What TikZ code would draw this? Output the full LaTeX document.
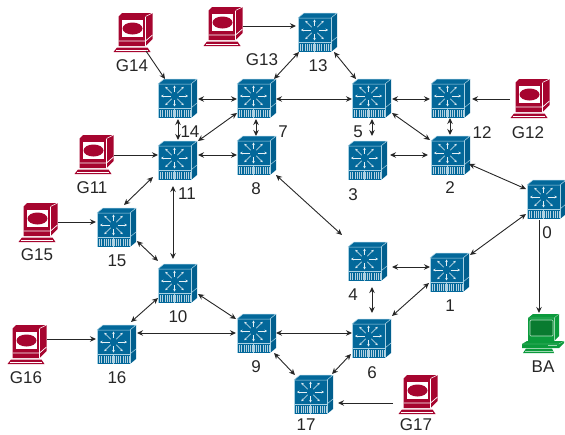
\documentclass[tikz,border=0pt]{standalone}
\usepackage{fontspec}
\setmainfont{Liberation Sans}
\usetikzlibrary{arrows.meta,calc}
\definecolor{swblue}{HTML}{03689A}
\definecolor{swedge}{HTML}{A9D2E4}
\definecolor{swside}{HTML}{015F8E}
\definecolor{pcred}{HTML}{A6052F}
\definecolor{pcgreen}{HTML}{0B9A3C}
\definecolor{linkcol}{HTML}{262626}
\tikzset{
  x=1pt,y=-1pt,
  box/.style={minimum width=39pt,minimum height=39pt,inner sep=0pt,outer sep=0pt},
  widebox/.style={minimum width=42pt,minimum height=39pt,inner sep=0pt,outer sep=0pt},
  lab/.style={inner sep=0pt,font=\fontsize{17}{17}\selectfont,text=black!85},
  twoway/.style={draw=linkcol,line width=0.9pt,{Stealth[length=6pt,width=5.5pt]}-{Stealth[length=6pt,width=5.5pt]}},
  oneway/.style={draw=linkcol,line width=0.9pt,-{Stealth[length=6pt,width=5.5pt]}},
  switchicon/.pic={
    \fill[swblue] (0,5) -- (6,0) -- (39,0) -- (33,5) -- cycle;
    \fill[swside] (33,5) -- (39,0) -- (39,34) -- (33,39) -- cycle;
    \fill[swblue] (0,5) rectangle (33,29);
    \fill[swblue!30!white] (0,29) rectangle (33,39);
    \fill[swblue] (0,29) rectangle (33,31);
    \fill[swblue] (0,38) rectangle (33,39);
    \foreach \px in {1.5,3.7,5.9,8.1,10.3,12.5,14.7,18.3,20.5,22.7,24.9,27.1,29.3,31.5}
      \fill[swblue] (\px-0.6,31) rectangle (\px+0.6,38);
    \fill[swedge] (16,29) rectangle (17,39);
    \draw[swedge,line width=0.5pt,line join=round] (0,5) -- (6,0) -- (39,0) -- (33,5) -- cycle;
    \draw[swedge,line width=0.5pt] (33,5) -- (33,39);
    \draw[swedge,line width=0.5pt] (33,29) -- (39,24);
    \draw[swedge,line width=0.5pt] (0,5) -- (0,39);
    \draw[swedge,line width=0.5pt] (0,29) -- (33,29);
    \foreach \ang/\ra/\rb in {0/4/13.5,45/4/13,90/4/10.5,135/4/13,180/4/13.5,225/4/13,270/4/10.5,315/4/13}
      \draw[white!90!swblue,line width=0.6pt,-{Stealth[length=2.5pt,width=2.5pt]}]
        ($(16.5,17)+(\ang:\ra pt and -\ra pt)$) -- ($(16.5,17)+(\ang:\rb pt and -\rb pt)$);
  },
  redpc/.pic={
    \fill[pcred] (4.5,3.5) -- (8,0) -- (38.5,0) -- (38.5,26) -- (31.5,33) -- (4.5,33) -- cycle;
    \draw[white,line width=0.5pt] (31.5,3.5) -- (38.5,0);
    \draw[white,line width=0.5pt] (31.5,3.5) -- (31.5,33);
    \fill[white] (8,7) rectangle (29,24);
    \fill[pcred] (18.5,15.5) ellipse (10pt and 6pt);
    \draw[white,line width=0.7pt] (4.5,28) -- (31.5,28) -- (38.5,22);
    \fill[pcred] (3,34.5) -- (33.5,34.5) -- (36.5,39) -- (-0.5,39) -- cycle;
    \draw[white,line width=0.4pt] (2,37) -- (34,37);
  },
  greenpc/.pic={
    \fill[pcgreen] (6,4) -- (11,0) -- (37,0) -- (37,22) -- (32,27) -- (6,27) -- cycle;
    \fill[pcgreen!80!black] (8,6) rectangle (31,22);
    \draw[white!70!pcgreen,line width=0.7pt,rounded corners=1pt] (8,6) rectangle (31,22);
    \draw[white!60!pcgreen,line width=0.4pt] (6,4) -- (32,4) -- (37,0);
    \draw[white!60!pcgreen,line width=0.4pt] (32,4) -- (32,27);
    \fill[pcgreen] (5,27) -- (38,27) -- (42,27) -- (42,29) -- (37,34) -- (0,34) -- (0,30) -- cycle;
    \draw[white!60!pcgreen,line width=0.4pt] (0,30) -- (37,30) -- (42,27);
    \fill[white!60!pcgreen] (26,30.5) rectangle (35,32);
    \fill[pcgreen] (4,34.5) -- (30,34.5) -- (32,39) -- (1,39) -- cycle;
    \draw[white!60!pcgreen,line width=0.4pt] (3,37) -- (31,37);
  }
}
\newcommand{\swnode}[3]{\pic at (#2,#3) {switchicon}; \node[box,anchor=north west] (#1) at (#2,#3) {};}
\newcommand{\rednode}[3]{\pic at (#2,#3) {redpc}; \node[box,anchor=north west] (#1) at (#2,#3) {};}
\newcommand{\link}[5]{\draw[#1] ([shift={(#3)}]#2.north west) -- ([shift={(#5)}]#4.north west);}
\newcommand{\lab}[4]{\node[lab] (#1) at (#2,#3) {#4};}
\begin{document}
\begin{tikzpicture}
\useasboundingbox (0,0) rectangle (565,434);
\swnode{n0}{527}{180}
\swnode{n1}{430}{253}
\swnode{n2}{431}{136}
\swnode{n3}{348}{141}
\swnode{n4}{348}{242}
\swnode{n5}{352}{79}
\swnode{n6}{352}{319}
\swnode{n7}{237}{79}
\swnode{n8}{237}{136}
\swnode{n9}{237}{314}
\swnode{n10}{158}{264}
\swnode{n11}{158}{141}
\swnode{n12}{431}{79}
\swnode{n13}{298}{13}
\swnode{n14}{158}{79}
\swnode{n15}{97}{208}
\swnode{n16}{97}{325}
\swnode{n17}{294}{375}
\rednode{g11}{75}{135}
\rednode{g12}{511}{79}
\rednode{g13}{204}{7}
\rednode{g14}{114}{13}
\rednode{g15}{19}{203}
\rednode{g16}{8}{325}
\rednode{g17}{399}{375}
\pic at (522,314) {greenpc};
\node[widebox,anchor=north west] (ba) at (522,314) {};
\link{oneway}{g14}{32,38}{n14}{7,0}
\link{oneway}{g13}{39,19}{n13}{-2,13}
\link{oneway}{g11}{39,20}{n11}{0,14}
\link{oneway}{g12}{-1,20}{n12}{41,20}
\link{oneway}{g15}{39,19}{n15}{-1,14}
\link{oneway}{g16}{39,14}{n16}{-1,14}
\link{oneway}{g17}{-6,28}{n17}{44,28}
\link{oneway}{n0}{12,40}{ba}{17,-1}
\link{twoway}{n14}{40,20}{n7}{0,20}
\link{twoway}{n14}{20,40}{n11}{20,-1}
\link{twoway}{n7}{0,34}{n11}{40,0}
\link{twoway}{n7}{19,40}{n8}{19,0}
\link{twoway}{n11}{40,14}{n8}{0,19}
\link{twoway}{n13}{1,39}{n7}{37,0}
\link{twoway}{n13}{36,39}{n5}{4,0}
\link{twoway}{n7}{39,20}{n5}{0,20}
\link{twoway}{n5}{40,20}{n12}{-1,20}
\link{twoway}{n5}{20,40}{n3}{24,-5}
\link{twoway}{n5}{40,34}{n2}{-1,4}
\link{twoway}{n3}{42,14}{n2}{-3,19}
\link{twoway}{n12}{19,39}{n2}{19,-1}
\link{twoway}{n2}{38,28}{n0}{-1,9}
\link{twoway}{n0}{-1,34}{n1}{40,2}
\link{twoway}{n8}{39,39}{n4}{-6,-7}
\link{twoway}{n4}{44,25}{n1}{0,14}
\link{twoway}{n4}{24,45}{n6}{20,-6}
\link{twoway}{n1}{-1,30}{n6}{40,-3}
\link{twoway}{n11}{15,45}{n10}{15,-5}
\link{twoway}{n11}{-5,36}{n15}{27,-3}
\link{twoway}{n15}{40,33}{n10}{0,-3}
\link{twoway}{n10}{0,34}{n16}{34,-3}
\link{twoway}{n10}{40,30}{n9}{-1,5}
\link{twoway}{n16}{40,8}{n9}{-1,19}
\link{twoway}{n9}{39,19}{n6}{0,14}
\link{twoway}{n9}{37,39}{n17}{1,0}
\link{twoway}{n6}{-1,35}{n17}{38,-1}
\lab{l0}{547}{233}{0}
\lab{l1}{450}{306}{1}
\lab{l2}{450}{188}{2}
\lab{l3}{353}{195}{3}
\lab{l4}{353}{295}{4}
\lab{l5}{358}{132}{5}
\lab{l6}{372}{373}{6}
\lab{l7}{283}{132}{7}
\lab{l8}{256}{189}{8}
\lab{l9}{256}{367}{9}
\lab{l10}{178}{317}{10}
\lab{l11}{187}{194}{11}
\lab{l12}{482}{133}{12}
\lab{l13}{318}{66}{13}
\lab{l14}{190}{132}{14}
\lab{l15}{117}{261}{15}
\lab{l16}{117}{378}{16}
\lab{l17}{306}{425}{17}
\lab{lg11}{92}{188}{G11}
\lab{lg12}{528}{133}{G12}
\lab{lg13}{262}{60}{G13}
\lab{lg14}{132}{66}{G14}
\lab{lg15}{37}{255}{G15}
\lab{lg16}{26}{378}{G16}
\lab{lg17}{416}{425}{G17}
\lab{lba}{543}{367}{BA}
\end{tikzpicture}
\end{document}
